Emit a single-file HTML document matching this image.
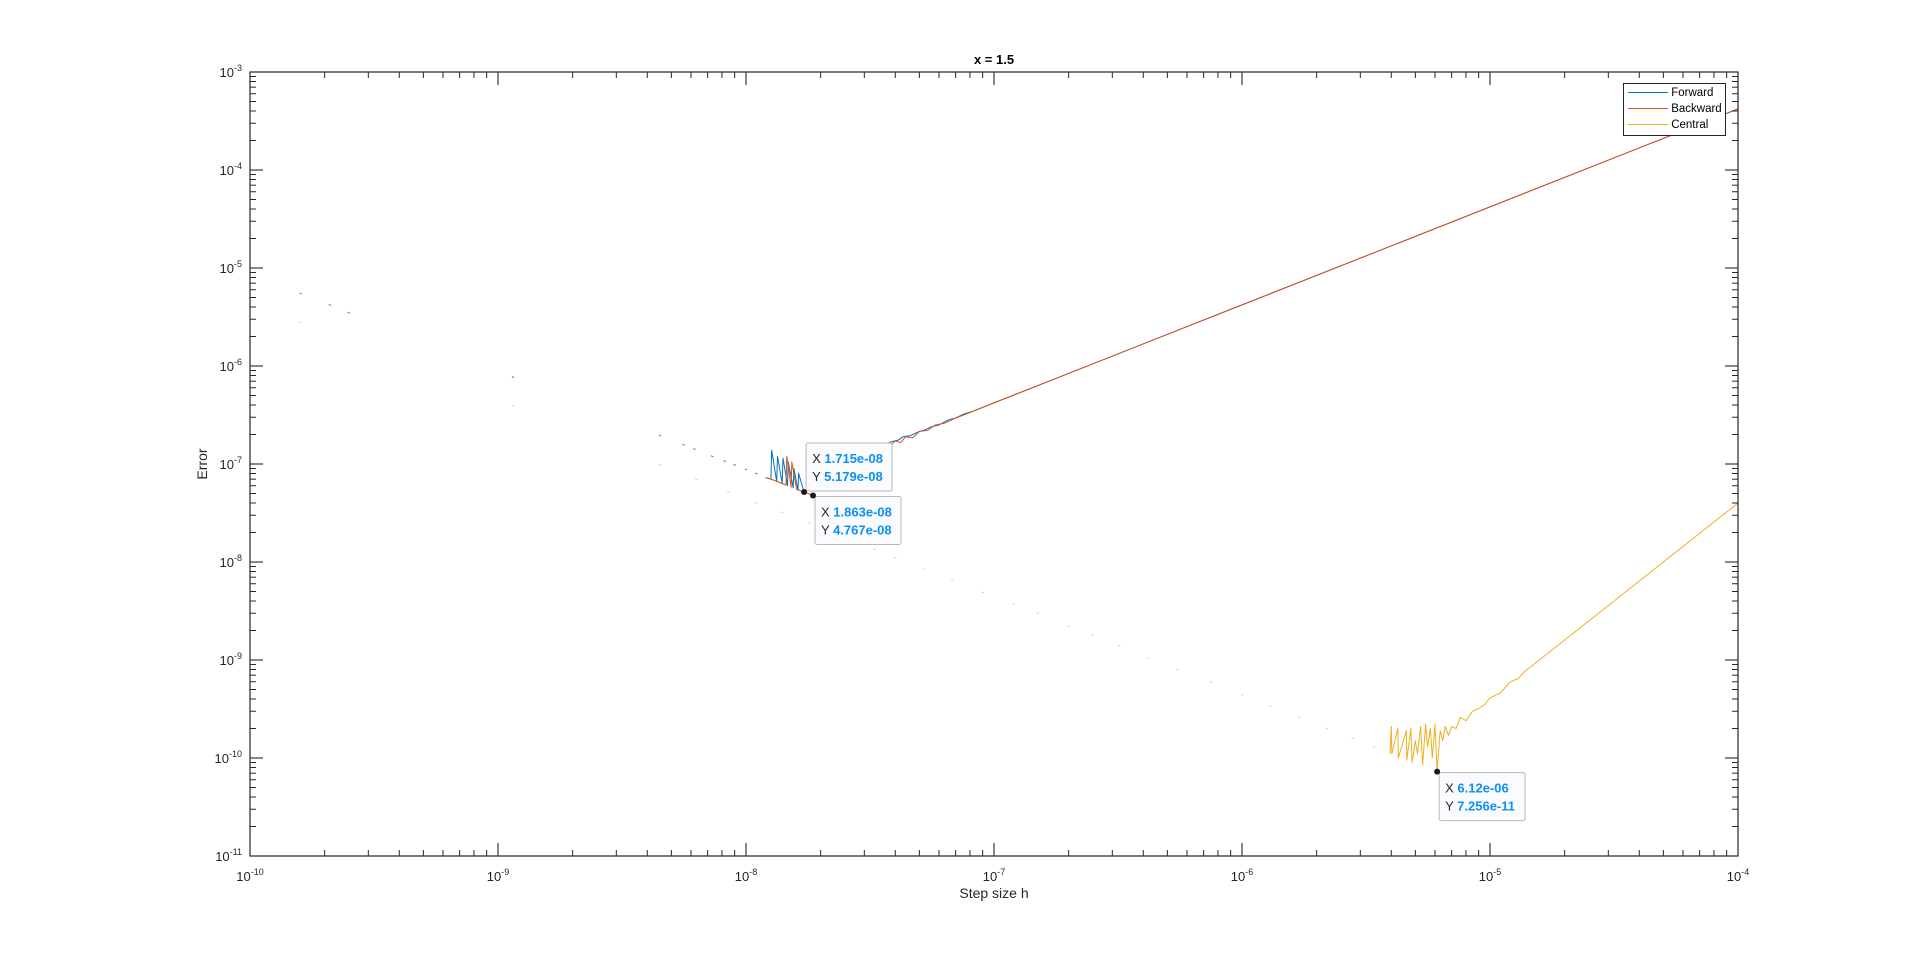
<!DOCTYPE html>
<html><head><meta charset="utf-8"><style>
html,body{margin:0;padding:0;background:#fff;}
svg{display:block;font-family:"Liberation Sans",Arial,sans-serif;}
</style></head><body>
<svg id="chart" width="1920" height="963" viewBox="0 0 1920 963">
<rect x="0" y="0" width="1920" height="963" fill="#fff"/>
<g id="plot"></g>
<g id="axes"></g>
<g id="tips"></g>
</svg>
<script>
// ---- data ----
const xTickExps = [-10,-9,-8,-7,-6,-5,-4];
const yTickExps = [-11,-10,-9,-8,-7,-6,-5,-4,-3];
// Forward: sparse dots (left region)
const fwdDotH = [1.6e-10,2.1e-10,2.5e-10,1.15e-9,4.5e-9,5.6e-9,6.2e-9,7.3e-9,8.2e-9,9.0e-9,1.0e-8,1.1e-8];
const fwdDotY = [5.5e-6,4.2e-6,3.5e-6,7.7e-7,1.95e-7,1.57e-7,1.42e-7,1.2e-7,1.07e-7,9.8e-8,8.8e-8,8.0e-8];
// Forward: spiky + main line
const fwdH = [1.2e-8,1.26e-8,1.27e-8,1.33e-8,1.34e-8,1.40e-8,1.41e-8,1.47e-8,1.48e-8,1.55e-8,1.56e-8,1.62e-8,1.63e-8,1.715e-8];
const fwdY = [7.3e-8,7.0e-8,1.38e-7,6.6e-8,1.2e-7,6.3e-8,1.15e-7,6.0e-8,1.05e-7,5.7e-8,9.0e-8,5.4e-8,8.0e-8,5.179e-8];
const fwdMainH = [3.3e-8,3.5e-8,3.7e-8,3.9e-8,4.1e-8,4.3e-8,4.6e-8,4.9e-8,5.2e-8,5.6e-8,6.0e-8,6.5e-8,7.0e-8,7.6e-8,8.2e-8,1e-7,1e-6,1e-5,1e-4];
const fwdMainY = [1.55e-7,1.48e-7,1.62e-7,1.7e-7,1.75e-7,1.9e-7,1.95e-7,2.1e-7,2.2e-7,2.4e-7,2.5e-7,2.8e-7,2.95e-7,3.25e-7,3.45e-7,4.2e-7,4.2e-6,4.2e-5,4.2e-4];
// Backward
const bwdH = [1.2e-8,1.3e-8,1.45e-8,1.46e-8,1.52e-8,1.53e-8,1.60e-8,1.68e-8,1.863e-8];
const bwdY = [7.3e-8,6.8e-8,6.1e-8,1.2e-7,5.8e-8,1.05e-7,5.5e-8,5.3e-8,4.767e-8];
const bwdMainH = [3.4e-8,3.6e-8,3.8e-8,4.0e-8,4.2e-8,4.4e-8,4.7e-8,5.0e-8,5.4e-8,5.8e-8,6.3e-8,6.8e-8,7.4e-8,8.0e-8,1e-7,1e-6,1e-5,1e-4];
const bwdMainY = [1.4e-7,1.6e-7,1.5e-7,1.72e-7,1.65e-7,1.9e-7,1.85e-7,2.15e-7,2.2e-7,2.5e-7,2.6e-7,2.85e-7,3.1e-7,3.35e-7,4.2e-7,4.2e-6,4.2e-5,4.2e-4];
// Central
const cenDotH = [1.6e-10,1.15e-9,4.5e-9,6.3e-9,8.5e-9,1.1e-8,1.4e-8,1.8e-8,2.3e-8,2.6e-8,3.3e-8,4.0e-8,5.2e-8,6.8e-8,9e-8,1.2e-7,1.5e-7,2.0e-7,2.5e-7,3.2e-7,4.2e-7,5.5e-7,7.5e-7,1.0e-6,1.3e-6,1.7e-6,2.2e-6,2.8e-6,3.4e-6];
const cenDotY = [2.8e-6,3.9e-7,9.8e-8,7.0e-8,5.2e-8,4.0e-8,3.2e-8,2.5e-8,1.9e-8,1.7e-8,1.35e-8,1.1e-8,8.5e-9,6.5e-9,4.9e-9,3.7e-9,3.0e-9,2.2e-9,1.8e-9,1.4e-9,1.05e-9,8.0e-10,5.9e-10,4.4e-10,3.4e-10,2.6e-10,2.0e-10,1.6e-10,1.3e-10];
const cenH = [3.95e-6,4.0e-6,4.02e-6,4.25e-6,4.27e-6,4.6e-6,4.62e-6,4.8e-6,4.85e-6,5.0e-6,5.1e-6,5.25e-6,5.35e-6,5.5e-6,5.6e-6,5.75e-6,5.85e-6,6.0e-6,6.12e-6,6.3e-6,6.45e-6,6.6e-6,6.8e-6,7.0e-6,7.3e-6,7.6e-6,8.0e-6,8.5e-6,9.0e-6,9.5e-6,1.0e-5,1.1e-5,1.2e-5,1.3e-5,1.4e-5,1.5e-5,2e-5,1e-4];
const cenY = [1.1e-10,2.1e-10,1.1e-10,2.0e-10,1.0e-10,1.9e-10,9.5e-11,2.0e-10,9.0e-11,1.5e-10,1.1e-10,2.1e-10,8.5e-11,2.2e-10,1.3e-10,2.0e-10,1.0e-10,2.2e-10,7.256e-11,1.9e-10,1.5e-10,2.1e-10,1.7e-10,2.1e-10,2.0e-10,2.6e-10,2.4e-10,3.0e-10,3.2e-10,3.5e-10,4.1e-10,4.6e-10,5.9e-10,6.5e-10,7.9e-10,9.0e-10,1.6e-9,4.0e-8];
const tipH = [1.715e-8,1.863e-8,6.12e-6];
const tipY = [5.179e-8,4.767e-8,7.256e-11];
const tipXText = ["1.715e-08","1.863e-08","6.12e-06"];
const tipYText = ["5.179e-08","4.767e-08","7.256e-11"];

// ---- axes geometry ----
const L=250,R=1738,T=72,B=856;
const xMin=-10,xMax=-4,yMin=-11,yMax=-3;
const sx=h=>L+(Math.log10(h)-xMin)/(xMax-xMin)*(R-L);
const sy=v=>B-(Math.log10(v)-yMin)/(yMax-yMin)*(B-T);
const NS="http://www.w3.org/2000/svg";
function mk(tag,attrs,parent){const e=document.createElementNS(NS,tag);for(const k in attrs)e.setAttribute(k,attrs[k]);parent.appendChild(e);return e;}
const plot=document.getElementById('plot'),axes=document.getElementById('axes'),tips=document.getElementById('tips');

function line(H,Y,color,name){
  const d=H.map((h,i)=>(i?'L':'M')+sx(h).toFixed(1)+','+sy(Y[i]).toFixed(1)).join('');
  const p=mk('path',{d:d,fill:'none',stroke:color,'stroke-width':1,'stroke-linejoin':'round'},plot);
  
  
}
function dots(H,Y,color,name){
  H.forEach((h,i)=>{
    const x=sx(h),y=sy(Y[i]);
    const p=mk('line',{x1:x-1.2,y1:y-0.5,x2:x+1.2,y2:y+0.5,stroke:color,'stroke-width':1,opacity:0.6},plot);
    
    
  });
}
const CF='#0072BD',CB='#D95319',CC='#EDB120';
dots(cenDotH,cenDotY,CC,'central-dot');
line(cenH,cenY,CC,'central-line');
dots(fwdDotH,fwdDotY,CF,'forward-dot');
line(fwdH,fwdY,CF,'forward-spikes');
line(fwdMainH,fwdMainY,CF,'forward-line');
dots(fwdDotH,fwdDotY,CB,'backward-dot');
line(bwdH,bwdY,CB,'backward-spikes');
line(bwdMainH,bwdMainY,CB,'backward-line');

// frame
const fr=mk('rect',{x:L,y:T,width:R-L,height:B-T,fill:'none',stroke:'#262626','stroke-width':1.2},axes);


// ticks
xTickExps.forEach((e,i)=>{
  const x=sx(Math.pow(10,e));
  if(i>0&&i<xTickExps.length-1){
    mk('line',{x1:x,y1:B,x2:x,y2:B-13,stroke:'#262626','stroke-width':1.1},axes);
    mk('line',{x1:x,y1:T,x2:x,y2:T+13,stroke:'#262626','stroke-width':1.1},axes);
  }
  const t=mk('text',{x:x,y:B+25,'text-anchor':'middle','font-size':13,fill:'#262626'},axes);
  t.innerHTML='10<tspan dy="-6" font-size="9">'+e+'</tspan>';
  
  
  if(i<xTickExps.length-1){
    for(let m=2;m<=9;m++){const xm=sx(m*Math.pow(10,e));
      mk('line',{x1:xm,y1:B,x2:xm,y2:B-6,stroke:'#262626','stroke-width':1},axes);
      mk('line',{x1:xm,y1:T,x2:xm,y2:T+6,stroke:'#262626','stroke-width':1},axes);}
  }
});
yTickExps.forEach((e,i)=>{
  const y=sy(Math.pow(10,e));
  if(i>0&&i<yTickExps.length-1){
    mk('line',{x1:L,y1:y,x2:L+13,y2:y,stroke:'#262626','stroke-width':1.1},axes);
    mk('line',{x1:R,y1:y,x2:R-13,y2:y,stroke:'#262626','stroke-width':1.1},axes);
  }
  const t=mk('text',{x:L-8,y:y+5,'text-anchor':'end','font-size':13,fill:'#262626'},axes);
  t.innerHTML='10<tspan dy="-6" font-size="9">'+e+'</tspan>';
  
  
  if(i<yTickExps.length-1){
    for(let m=2;m<=9;m++){const ym=sy(m*Math.pow(10,e));
      mk('line',{x1:L,y1:ym,x2:L+6,y2:ym,stroke:'#262626','stroke-width':1},axes);
      mk('line',{x1:R,y1:ym,x2:R-6,y2:ym,stroke:'#262626','stroke-width':1},axes);}
  }
});
// data tips
tipH.forEach((h,i)=>{
  const x=sx(h),y=sy(tipY[i]);
  const g=mk('g',{},tips);
  
  
  const by=(i===0?y-49:y+1);
  mk('rect',{x:x+2,y:by,width:86,height:48,rx:2,fill:'#f9fbfe',stroke:'#b8b8b8','stroke-width':1},g);
  const t1=mk('text',{x:x+8,y:by+20,'font-size':13,fill:'#262626'},g);
  t1.innerHTML='X <tspan font-weight="bold" fill="#0e8ff2">'+tipXText[i]+'</tspan>';
  const t2=mk('text',{x:x+8,y:by+38,'font-size':13,fill:'#262626'},g);
  t2.innerHTML='Y <tspan font-weight="bold" fill="#0e8ff2">'+tipYText[i]+'</tspan>';
  mk('circle',{cx:x,cy:y,r:3,fill:'#1a1a1a'},g);
});
</script>
<div style="position:absolute;left:0;top:0;width:1920px;height:963px;pointer-events:none;font-family:'Liberation Sans',Arial,sans-serif;">
  <div style="position:absolute;left:894px;top:52px;width:200px;text-align:center;font-size:13px;font-weight:bold;color:#000;">x = 1.5</div>
  <div style="position:absolute;left:894px;top:885px;width:200px;text-align:center;font-size:14px;color:#262626;">Step size h</div>
  <div style="position:absolute;left:172px;top:456px;width:60px;text-align:center;font-size:14px;color:#262626;transform:rotate(-90deg);">Error</div>
  <div style="position:absolute;left:1623px;top:83px;width:101px;height:51px;border:1px solid #262626;background:#fff;font-size:11.5px;color:#000;">
    <div style="position:absolute;left:4px;top:3px;white-space:nowrap;"><span style="display:inline-block;width:40px;height:0;border-top:1.3px solid #0072BD;vertical-align:middle;"></span> Forward</div>
    <div style="position:absolute;left:4px;top:19px;white-space:nowrap;"><span style="display:inline-block;width:40px;height:0;border-top:1.3px solid #D95319;vertical-align:middle;"></span> Backward</div>
    <div style="position:absolute;left:4px;top:35px;white-space:nowrap;"><span style="display:inline-block;width:40px;height:0;border-top:1.3px solid #EDB120;vertical-align:middle;"></span> Central</div>
  </div>
</div>
</body></html>
